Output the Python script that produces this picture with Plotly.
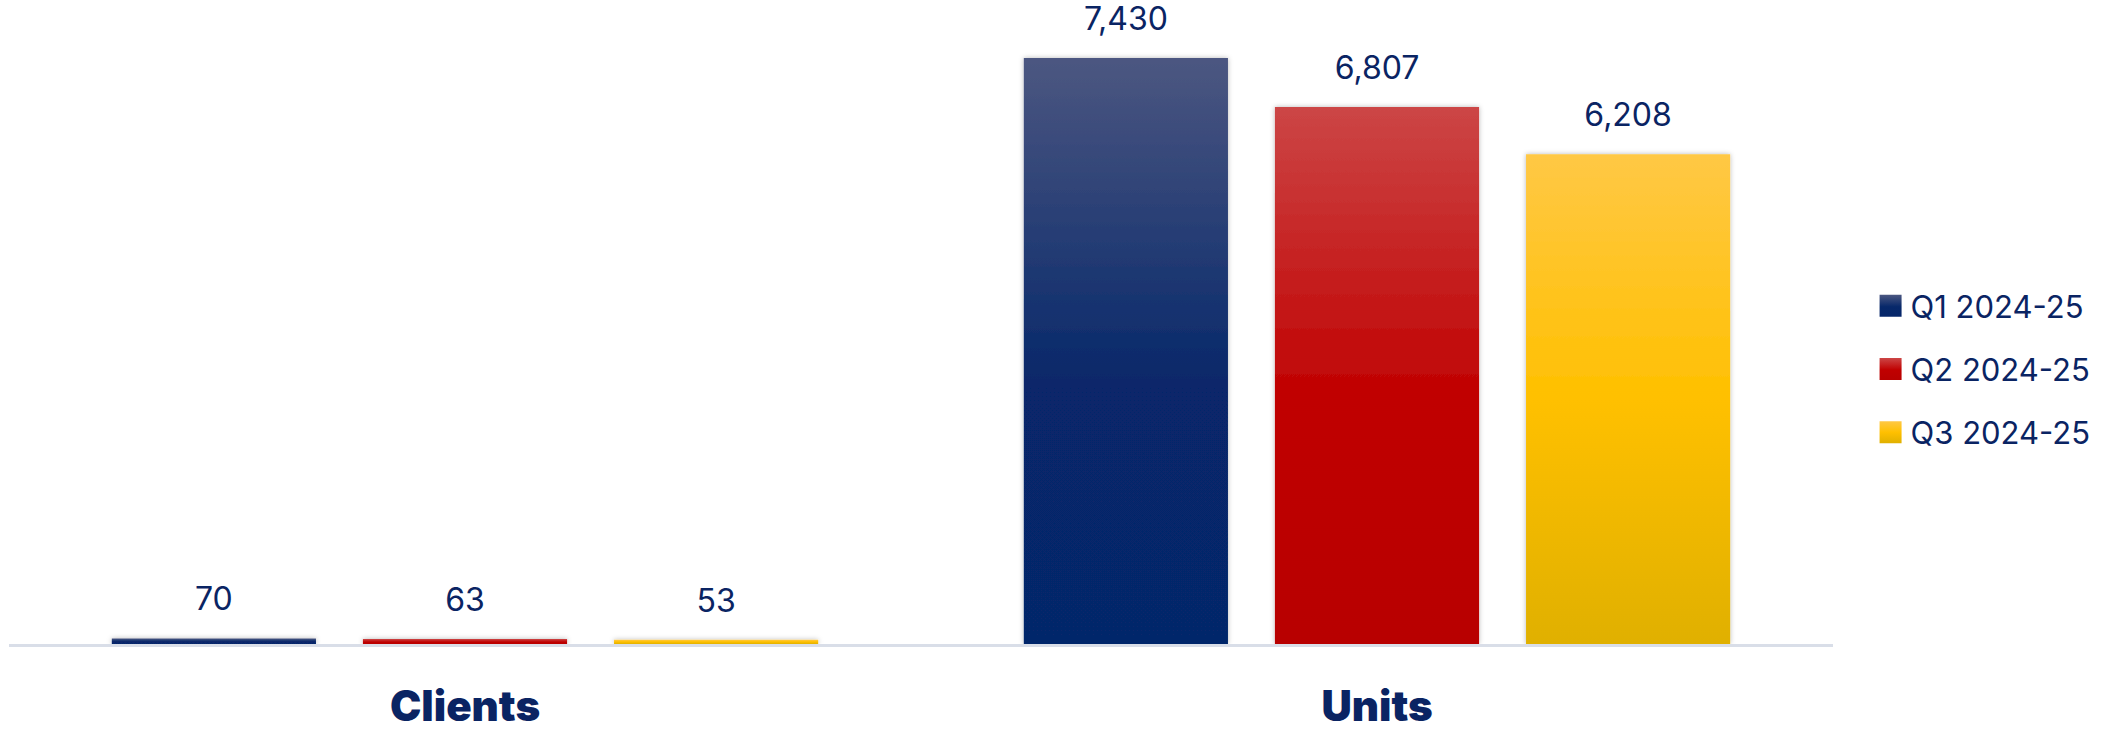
import json
import plotly.graph_objects as go

categories = ["Clients", "Units"]
series_names = ["Q1 2024-25", "Q2 2024-25", "Q3 2024-25"]
q1_values = [70, 7430]
q2_values = [63, 6807]
q3_values = [53, 6208]

base_colors = ["#07286a", "#c00000", "#ffc000"]
# gradient stops (top -> bottom) for each series
gradient_stops = [
    [("0%", "#4c5781"), ("55%", "#07286a"), ("100%", "#06266a")],
    [("0%", "#cc4646"), ("55%", "#c00000"), ("100%", "#b80000")],
    [("0%", "#ffc845"), ("50%", "#ffc000"), ("100%", "#e0b000")],
]

TEXT_COLOR = "#0a2463"

fig = go.Figure()
for name, vals, col in zip(series_names, [q1_values, q2_values, q3_values], base_colors):
    fig.add_trace(go.Bar(
        name=name, x=categories, y=vals,
        marker=dict(color=col, line=dict(width=0)),
        texttemplate="%{y:,}", textposition="outside",
        textfont=dict(family="Inter, Open Sans, sans-serif", size=32, color=TEXT_COLOR),
        cliponaxis=False, legendgroup=name,
    ))

fig.update_layout(
    width=2120, height=733,
    margin=dict(l=9, r=287, t=0, b=89, autoexpand=False),
    paper_bgcolor="white", plot_bgcolor="white",
    barmode="group", bargap=0.174, bargroupgap=0.187,
    showlegend=True,
    legend=dict(
        x=1.0206, xanchor="left", y=0.427, yanchor="middle",
        font=dict(family="Inter, Open Sans, sans-serif", size=31, color=TEXT_COLOR),
        tracegroupgap=20, bgcolor="rgba(0,0,0,0)",
    ),
    xaxis=dict(
        showline=True, linecolor="#d9dee8", linewidth=3,
        showgrid=False, zeroline=False, ticks="", automargin=False,
        tickfont=dict(family="Inter, sans-serif", size=42, color=TEXT_COLOR, weight=900),
        ticklabelstandoff=24,
    ),
    yaxis=dict(visible=False, range=[0, 8165], showgrid=False, zeroline=False, automargin=False),
    hovermode=False,
)

post_js = """
var gd = document.getElementById('{plot_id}');
var ns = 'http://www.w3.org/2000/svg';
var svg = gd.querySelector('svg.main-svg');
var defs = document.createElementNS(ns, 'defs');
svg.insertBefore(defs, svg.firstChild);
var stops = STOPS;
stops.forEach(function(st, i) {
  var g = document.createElementNS(ns, 'linearGradient');
  g.setAttribute('id', 'bargrad' + i);
  g.setAttribute('x1', '0'); g.setAttribute('y1', '0');
  g.setAttribute('x2', '0'); g.setAttribute('y2', '1');
  st.forEach(function(s) {
    var e = document.createElementNS(ns, 'stop');
    e.setAttribute('offset', s[0]); e.setAttribute('stop-color', s[1]);
    g.appendChild(e);
  });
  defs.appendChild(g);
});
var f = document.createElementNS(ns, 'filter');
f.setAttribute('id', 'barshadow');
f.setAttribute('filterUnits', 'userSpaceOnUse');
f.setAttribute('x', '-200'); f.setAttribute('y', '-200');
f.setAttribute('width', '2600'); f.setAttribute('height', '1200');
var ds = document.createElementNS(ns, 'feDropShadow');
ds.setAttribute('dx', '0'); ds.setAttribute('dy', '0');
ds.setAttribute('stdDeviation', '2.5');
ds.setAttribute('flood-color', '#000'); ds.setAttribute('flood-opacity', '0.28');
f.appendChild(ds); defs.appendChild(f);
var traces = gd.querySelectorAll('.barlayer .trace.bars');
traces.forEach(function(t, i) {
  t.querySelectorAll('.point path').forEach(function(p) {
    p.style.fill = 'url(#bargrad' + i + ')';
    p.setAttribute('filter', 'url(#barshadow)');
  });
  t.querySelectorAll('.point text').forEach(function(tx) {
    var tr = tx.getAttribute('transform') || '';
    tx.setAttribute('transform', tr + ' translate(0,-17)');
  });
});
var leg = gd.querySelectorAll('.legend .traces');
leg.forEach(function(t, i) {
  t.querySelectorAll('.legendpoints path').forEach(function(p) {
    p.setAttribute('d', 'M11,11H-11V-11H11Z');
    p.style.fill = 'url(#bargrad' + i + ')';
  });
});
""".replace("STOPS", json.dumps(gradient_stops))

fig.write_html("out.html", post_script=post_js)
